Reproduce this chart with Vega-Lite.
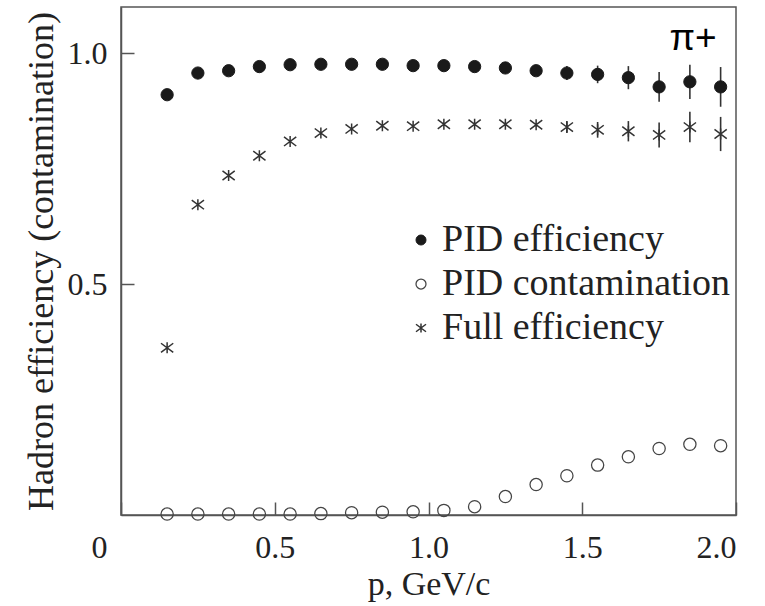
{
  "$schema": "https://vega.github.io/schema/vega-lite/v6.json",
  "width": 615,
  "height": 508,
  "autosize": {"type": "none"},
  "padding": {"left": 121, "top": 7, "right": 29, "bottom": 91},
  "background": "white",
  "config": {
    "view": {"stroke": "#555", "strokeWidth": 1.5},
    "axis": {
      "labelFont": "Liberation Serif",
      "titleFont": "Liberation Serif",
      "labelColor": "#222",
      "titleColor": "#222",
      "labelFontSize": 32,
      "titleFontSize": 31,
      "titleFontWeight": "normal",
      "domainColor": "#555",
      "domainWidth": 1.5,
      "tickColor": "#555",
      "tickWidth": 1.5,
      "tickSize": -13,
      "grid": false
    },
    "legend": {
      "labelFont": "Liberation Serif",
      "labelFontSize": 38,
      "labelColor": "#222",
      "labelLimit": 0,
      "symbolSize": 100,
      "rowPadding": 6,
      "labelOffset": 2,
      "padding": 0
    }
  },
  "data": {
    "values": [
      {"p": 0.15, "series": "PID efficiency", "v": 0.910},
      {"p": 0.25, "series": "PID efficiency", "v": 0.957},
      {"p": 0.35, "series": "PID efficiency", "v": 0.962},
      {"p": 0.45, "series": "PID efficiency", "v": 0.971},
      {"p": 0.55, "series": "PID efficiency", "v": 0.975},
      {"p": 0.65, "series": "PID efficiency", "v": 0.976},
      {"p": 0.75, "series": "PID efficiency", "v": 0.976},
      {"p": 0.85, "series": "PID efficiency", "v": 0.976},
      {"p": 0.95, "series": "PID efficiency", "v": 0.973},
      {"p": 1.05, "series": "PID efficiency", "v": 0.973},
      {"p": 1.15, "series": "PID efficiency", "v": 0.971},
      {"p": 1.25, "series": "PID efficiency", "v": 0.968},
      {"p": 1.35, "series": "PID efficiency", "v": 0.962, "lo": 0.952, "hi": 0.972},
      {"p": 1.45, "series": "PID efficiency", "v": 0.957, "lo": 0.942, "hi": 0.972},
      {"p": 1.55, "series": "PID efficiency", "v": 0.954, "lo": 0.935, "hi": 0.973},
      {"p": 1.65, "series": "PID efficiency", "v": 0.947, "lo": 0.922, "hi": 0.972},
      {"p": 1.75, "series": "PID efficiency", "v": 0.927, "lo": 0.895, "hi": 0.959},
      {"p": 1.85, "series": "PID efficiency", "v": 0.938, "lo": 0.901, "hi": 0.975},
      {"p": 1.95, "series": "PID efficiency", "v": 0.927, "lo": 0.884, "hi": 0.970},
      {"p": 0.15, "series": "PID contamination", "v": 0.002},
      {"p": 0.25, "series": "PID contamination", "v": 0.002},
      {"p": 0.35, "series": "PID contamination", "v": 0.002},
      {"p": 0.45, "series": "PID contamination", "v": 0.002},
      {"p": 0.55, "series": "PID contamination", "v": 0.002},
      {"p": 0.65, "series": "PID contamination", "v": 0.003},
      {"p": 0.75, "series": "PID contamination", "v": 0.005},
      {"p": 0.85, "series": "PID contamination", "v": 0.006},
      {"p": 0.95, "series": "PID contamination", "v": 0.007},
      {"p": 1.05, "series": "PID contamination", "v": 0.010},
      {"p": 1.15, "series": "PID contamination", "v": 0.018},
      {"p": 1.25, "series": "PID contamination", "v": 0.040},
      {"p": 1.35, "series": "PID contamination", "v": 0.066},
      {"p": 1.45, "series": "PID contamination", "v": 0.085},
      {"p": 1.55, "series": "PID contamination", "v": 0.108},
      {"p": 1.65, "series": "PID contamination", "v": 0.126},
      {"p": 1.75, "series": "PID contamination", "v": 0.144},
      {"p": 1.85, "series": "PID contamination", "v": 0.153},
      {"p": 1.95, "series": "PID contamination", "v": 0.150},
      {"p": 0.15, "series": "Full efficiency", "v": 0.362},
      {"p": 0.25, "series": "Full efficiency", "v": 0.672},
      {"p": 0.35, "series": "Full efficiency", "v": 0.735},
      {"p": 0.45, "series": "Full efficiency", "v": 0.778},
      {"p": 0.55, "series": "Full efficiency", "v": 0.809},
      {"p": 0.65, "series": "Full efficiency", "v": 0.827},
      {"p": 0.75, "series": "Full efficiency", "v": 0.836},
      {"p": 0.85, "series": "Full efficiency", "v": 0.843},
      {"p": 0.95, "series": "Full efficiency", "v": 0.842},
      {"p": 1.05, "series": "Full efficiency", "v": 0.846},
      {"p": 1.15, "series": "Full efficiency", "v": 0.846},
      {"p": 1.25, "series": "Full efficiency", "v": 0.846},
      {"p": 1.35, "series": "Full efficiency", "v": 0.845},
      {"p": 1.45, "series": "Full efficiency", "v": 0.840, "lo": 0.827, "hi": 0.853},
      {"p": 1.55, "series": "Full efficiency", "v": 0.834, "lo": 0.817, "hi": 0.851},
      {"p": 1.65, "series": "Full efficiency", "v": 0.831, "lo": 0.809, "hi": 0.853},
      {"p": 1.75, "series": "Full efficiency", "v": 0.823, "lo": 0.796, "hi": 0.850},
      {"p": 1.85, "series": "Full efficiency", "v": 0.840, "lo": 0.807, "hi": 0.873},
      {"p": 1.95, "series": "Full efficiency", "v": 0.825, "lo": 0.788, "hi": 0.862}
    ]
  },
  "layer": [
    {
      "transform": [{"filter": "isValid(datum.lo)"}],
      "mark": {"type": "rule", "color": "#333", "strokeWidth": 1.6},
      "encoding": {
        "x": {"field": "p", "type": "quantitative"},
        "y": {"field": "lo", "type": "quantitative"},
        "y2": {"field": "hi"}
      }
    },
    {
      "mark": {"type": "point", "size": 150, "opacity": 1},
      "encoding": {
        "x": {
          "field": "p",
          "type": "quantitative",
          "scale": {"domain": [0, 2], "nice": false, "zero": false},
          "axis": {
            "values": [0, 0.5, 1, 1.5, 2],
            "labelExpr": "datum.value === 0 ? '0' : format(datum.value, '.1f')",
            "labelPadding": 30,
            "labelOffset": {"condition": {"test": "datum.value === 0", "value": -30}, "value": 0},
            "title": "p, GeV/c",
            "titleFontSize": 34,
            "titlePadding": 4
          }
        },
        "y": {
          "field": "v",
          "type": "quantitative",
          "scale": {"domain": [0, 1.1], "nice": false, "zero": false},
          "axis": {
            "values": [0.5, 1.0],
            "format": ".1f",
            "labelPadding": 27,
            "title": "Hadron efficiency (contamination)",
            "titleFontSize": 36,
            "titlePadding": 7
          }
        },
        "shape": {
          "field": "series",
          "type": "nominal",
          "scale": {
            "domain": ["PID efficiency", "PID contamination", "Full efficiency"],
            "range": ["circle", "circle", "M-1,-0.75L1,0.75M-1,0.75L1,-0.75M0,-0.9L0,0.9"]
          },
          "legend": {"title": null, "orient": "none", "legendX": 281, "legendY": 214}
        },
        "fill": {
          "field": "series",
          "type": "nominal",
          "scale": {
            "domain": ["PID efficiency", "PID contamination", "Full efficiency"],
            "range": ["#1a1a1a", "transparent", "transparent"]
          },
          "legend": {"title": null, "orient": "none", "legendX": 281, "legendY": 214}
        },
        "stroke": {
          "field": "series",
          "type": "nominal",
          "scale": {
            "domain": ["PID efficiency", "PID contamination", "Full efficiency"],
            "range": ["#1a1a1a", "#444", "#333"]
          },
          "legend": {"title": null, "orient": "none", "legendX": 281, "legendY": 214}
        },
        "strokeWidth": {
          "field": "series",
          "type": "nominal",
          "scale": {
            "domain": ["PID efficiency", "PID contamination", "Full efficiency"],
            "range": [1, 1.5, 2.2]
          },
          "legend": {"title": null, "orient": "none", "legendX": 281, "legendY": 214}
        }
      }
    },
    {
      "data": {"values": [{"p": 1.86, "v": 1.03, "label": "π+"}]},
      "mark": {"type": "text", "font": "Liberation Sans", "fontSize": 37, "color": "#000", "align": "center", "baseline": "middle"},
      "encoding": {
        "x": {"field": "p", "type": "quantitative"},
        "y": {"field": "v", "type": "quantitative"},
        "text": {"field": "label"}
      }
    }
  ]
}
